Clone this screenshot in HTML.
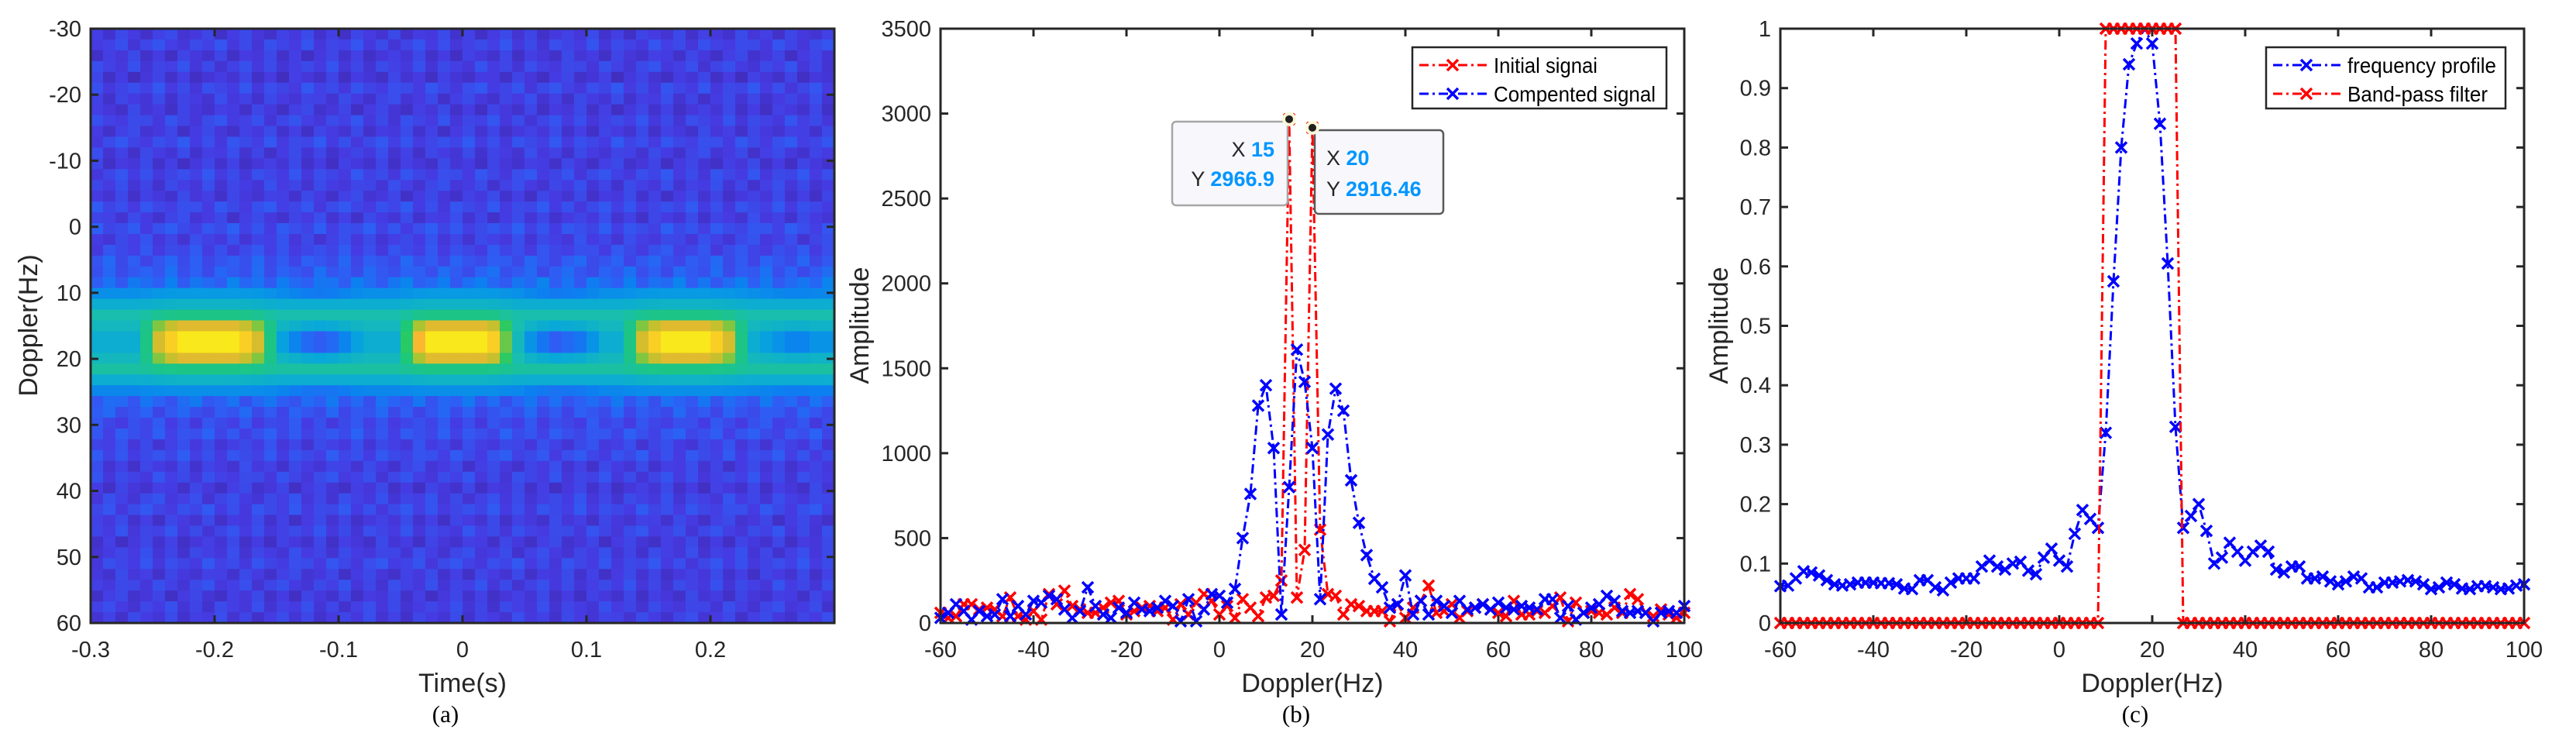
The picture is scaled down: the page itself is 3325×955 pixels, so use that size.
<!DOCTYPE html>
<html><head><meta charset="utf-8">
<style>
html,body{margin:0;padding:0;background:#fff;}
svg{display:block;font-family:"Liberation Sans",Arial,sans-serif;}
</style></head>
<body>
<svg id="fig" width="3325" height="955" viewBox="0 0 3325 955" xmlns="http://www.w3.org/2000/svg"></svg>
<script>
// ---------- DATA ----------
// Panel (a) heatmap
const timeTicks = [-0.3,-0.2,-0.1,0,0.1,0.2];
const dopplerTicksA = [-30,-20,-10,0,10,20,30,40,50,60];
// per-Doppler-row base level (55 rows, -30..60 Hz)
const rowLevel = [0.14,0.18,0.13,0.17,0.12,0.19,0.15,0.13,0.18,0.14,0.2,0.15,0.13,0.19,0.16,0.14,0.2,0.15,0.22,0.17,0.2,0.25,0.27,0.33,0.44,0.53,0.6,0.57,0.53,0.53,0.57,0.62,0.53,0.42,0.3,0.25,0.2,0.23,0.17,0.21,0.15,0.18,0.13,0.17,0.2,0.14,0.18,0.13,0.16,0.19,0.14,0.17,0.13,0.16,0.15];
const rowPeak = [0,0,0,0,0,0,0,0,0,0,0,0,0,0,0,0,0,0,0,0,0,0,0,0,0.47,0.55,0.66,0.85,0.97,0.97,0.85,0.66,0.55,0.44,0,0,0,0,0,0,0,0,0,0,0,0,0,0,0,0,0,0,0,0,0];
const rowDip = [0,0,0,0,0,0,0,0,0,0,0,0,0,0,0,0,0,0,0,0,0,0,0,0,0.1,0,0,0.1,0.4,0.4,0.1,0,0,0.1,0,0,0,0,0,0,0,0,0,0,0,0,0,0,0,0,0,0,0,0,0];
// per-time-column blob activity (60 cols, -0.3..0.3 s)
const blobCol = [0,0,0,0,0.3,0.7,0.9,1,1,1,1,1,0.9,0.7,0.3,-0.1,-0.3,-0.5,-0.6,-0.5,-0.3,-0.1,0,0,0,0.4,0.8,1,1,1,1,1,0.9,0.5,0.1,-0.2,-0.4,-0.6,-0.5,-0.4,-0.2,0,0,0.3,0.7,0.9,1,1,1,1,0.9,0.7,0.3,0,-0.1,-0.2,-0.3,-0.3,-0.2,-0.2];
const bgCol = [0.03,-0.04,0.07,0.01,-0.05,0.04,0.08,-0.03,0.0,0.06,-0.06,0.02,0.07,-0.01,-0.05,0.04,0.0,0.08,-0.04,0.03,-0.06,0.06,0.01,-0.03,0.07,-0.05,0.02,0.0,0.08,-0.04,0.04,-0.06,0.01,0.07,-0.03,0.05,-0.05,0.0,0.04,-0.01,0.08,-0.04,0.03,-0.06,0.05,0.01,-0.03,0.07,-0.05,0.04,0.0,-0.04,0.08,-0.01,0.03,-0.05,0.06,0.0,-0.03,0.04];

// Panels (b),(c): Doppler sampling grid, 97 bins from -60 to 100 Hz
const dopplerBins = [];
for (let i = 0; i <= 96; i++) dopplerBins.push(-60 + i * 160 / 96);
const xTicksBC = [-60,-40,-20,0,20,40,60,80,100];
const yTicksB = [0,500,1000,1500,2000,2500,3000,3500];
const yTicksC = [0,0.1,0.2,0.3,0.4,0.5,0.6,0.7,0.8,0.9,1];

const initialSignal = [60,30,40,110,110,80,90,80,40,150,40,20,70,20,170,110,190,100,80,60,60,90,120,130,50,70,90,100,70,90,20,110,50,120,170,130,50,100,30,140,90,40,150,160,250,2966.9,150,430,2916.46,550,170,160,50,110,100,70,70,70,10,110,30,90,130,220,60,70,110,30,70,90,110,80,60,40,130,50,50,70,60,100,150,10,120,60,70,60,50,90,60,170,140,60,40,80,50,30,60];
const compensatedSignal = [30,60,110,70,20,70,40,50,140,40,100,50,130,120,160,140,80,30,70,210,100,50,30,90,60,120,80,70,90,130,100,10,140,10,80,170,160,120,200,500,760,1280,1400,1030,50,800,1610,1420,1030,140,1110,1380,1250,840,590,400,260,210,90,110,280,50,130,50,130,100,60,130,80,90,110,80,120,90,80,100,90,80,140,140,30,100,20,60,90,110,160,130,70,60,70,60,10,60,70,60,100];
const freqProfile = [0.062,0.063,0.075,0.087,0.085,0.08,0.072,0.065,0.063,0.065,0.068,0.068,0.068,0.067,0.067,0.065,0.058,0.057,0.072,0.072,0.06,0.055,0.068,0.075,0.075,0.075,0.095,0.105,0.095,0.09,0.1,0.103,0.088,0.082,0.11,0.125,0.105,0.095,0.15,0.19,0.175,0.16,0.32,0.575,0.8,0.94,0.975,1.0,0.975,0.84,0.605,0.33,0.16,0.18,0.2,0.155,0.1,0.11,0.135,0.12,0.105,0.12,0.13,0.12,0.09,0.085,0.095,0.095,0.075,0.075,0.078,0.07,0.065,0.07,0.078,0.075,0.06,0.06,0.068,0.068,0.07,0.072,0.07,0.065,0.057,0.06,0.068,0.065,0.058,0.057,0.062,0.062,0.06,0.057,0.058,0.063,0.065];
const bandPass = [0,0,0,0,0,0,0,0,0,0,0,0,0,0,0,0,0,0,0,0,0,0,0,0,0,0,0,0,0,0,0,0,0,0,0,0,0,0,0,0,0,0,1,1,1,1,1,1,1,1,1,1,0,0,0,0,0,0,0,0,0,0,0,0,0,0,0,0,0,0,0,0,0,0,0,0,0,0,0,0,0,0,0,0,0,0,0,0,0,0,0,0,0,0,0,0,0];
const tipIdx = [45,48];

// ---------- HELPERS ----------
const NS = "http://www.w3.org/2000/svg";
const fig = document.getElementById('fig');
function mk(tag, attrs, parent){ const e=document.createElementNS(NS,tag); for(const k in attrs) e.setAttribute(k,attrs[k]); (parent||fig).appendChild(e); return e; }
function txt(s, attrs, parent){ const e=mk('text',attrs,parent); e.textContent=s; return e; }
function scale(d0,d1,r0,r1){ return v => r0 + (v-d0)/(d1-d0)*(r1-r0); }

const stops=[[0,[62,38,168]],[0.15,[70,58,225]],[0.3,[45,95,245]],[0.4,[12,128,240]],[0.5,[6,165,222]],[0.6,[25,190,175]],[0.7,[30,202,105]],[0.8,[180,196,45]],[0.88,[250,182,48]],[1,[249,248,20]]];
function parula(v){ v=Math.max(0,Math.min(1,v)); for(let i=1;i<stops.length;i++){ if(v<=stops[i][0]){ const a=stops[i-1],b=stops[i]; const t=(v-a[0])/(b[0]-a[0]); return 'rgb('+a[1].map((c,j)=>Math.round(c+(b[1][j]-c)*t)).join(',')+')'; } } return 'rgb(249,248,20)'; }

function axesFrame(g, L,R,T,B, xs, ys, xticks, yticks, xfmt, yfmt){
  mk('rect',{x:L,y:T,width:R-L,height:B-T,fill:'none',stroke:'#262626','stroke-width':3},g);
  xticks.forEach(v=>{ const x=xs(v);
    mk('line',{x1:x,y1:B,x2:x,y2:B-10,stroke:'#262626','stroke-width':3},g);
    mk('line',{x1:x,y1:T,x2:x,y2:T+10,stroke:'#262626','stroke-width':3},g);
    const t=txt(xfmt(v),{x:x,y:848,'font-size':29,'text-anchor':'middle',fill:'#262626'},g);
      });
  yticks.forEach(v=>{ const y=ys(v);
    mk('line',{x1:L,y1:y,x2:L+10,y2:y,stroke:'#262626','stroke-width':3},g);
    mk('line',{x1:R,y1:y,x2:R-10,y2:y,stroke:'#262626','stroke-width':3},g);
    const t=txt(yfmt(v),{x:L-12,y:y+10,'font-size':29,'text-anchor':'end',fill:'#262626'},g);
      });
}
function titles(g, cx, xt, yx, yt, cap, capx){
  const a=txt(xt,{x:cx,y:893,'font-size':34,'text-anchor':'middle',fill:'#262626'},g);
   
  const b=txt(yt,{x:yx,y:420,'font-size':34,'text-anchor':'middle',fill:'#262626',transform:'rotate(-90 '+yx+' 420)',dy:12},g);
   
  const c=txt(cap,{x:capx,y:932,'font-size':31,'text-anchor':'middle',fill:'#000','font-family':'"Liberation Serif",serif'},g);
   
}
function series(g, xs, ys, X, Y, color, name){
  const pts=X.map((x,i)=>xs(x).toFixed(1)+','+ys(Y[i]).toFixed(1)).join(' ');
  const pl=mk('polyline',{points:pts,fill:'none',stroke:color,'stroke-width':3,'stroke-dasharray':'12,5,3,5'},g);
   
  X.forEach((x,i)=>{ const px=xs(x), py=ys(Y[i]);
    const m=mk('path',{d:`M${px-7},${py-7}L${px+7},${py+7}M${px-7},${py+7}L${px+7},${py-7}`,stroke:color,'stroke-width':3.5,fill:'none'},g);
      });
}
function legend(g, x0,y0,w,h, entries){
  const lg=mk('g',{},g);  
  mk('rect',{x:x0,y:y0,width:w,height:h,fill:'#fff',stroke:'#262626','stroke-width':2.5},lg);
  entries.forEach((e,i)=>{ const y=y0+23+i*37; const en=mk('g',{},lg);
     
    mk('line',{x1:x0+9,y1:y,x2:x0+96,y2:y,stroke:e[1],'stroke-width':3,'stroke-dasharray':'12,5,3,5'},en);
    const mx=x0+52; mk('path',{d:`M${mx-7},${y-7}L${mx+7},${y+7}M${mx-7},${y+7}L${mx+7},${y-7}`,stroke:e[1],'stroke-width':3.5},en);
    txt(e[0],{x:x0+105,y:y+10,'font-size':28,fill:'#000',textLength:e[2],lengthAdjust:'spacingAndGlyphs'},en); });
}

// ---------- PANEL A ----------
(function(){
  const g=mk('g',{});  
  const L=117,R=1077,T=37,B=804;
  const xs=scale(-0.3,0.3,L,R), ys=scale(-30,60,T,B);
  const nr=rowLevel.length, nc=blobCol.length;
  const hm=mk('g',{},g);  
  for(let r=0;r<nr;r++){ for(let c=0;c<nc;c++){
    let v=rowLevel[r]; const b=blobCol[c];
    if(rowPeak[r]>0){ if(b>0) v=v+(rowPeak[r]-v)*b; else v=v+b*rowDip[r]; }
    else v=v+bgCol[(c+r*7)%nc];
    const x0=xs(-0.3+c*0.6/nc), x1=xs(-0.3+(c+1)*0.6/nc), y0=ys(-30+r*90/nr), y1=ys(-30+(r+1)*90/nr);
    const cell=mk('rect',{x:x0.toFixed(1),y:y0.toFixed(1),width:(x1-x0+0.8).toFixed(1),height:(y1-y0+0.8).toFixed(1),fill:parula(v)},hm);
     
  }}
  axesFrame(g,L,R,T,B,xs,ys,timeTicks,dopplerTicksA,v=>String(v),v=>String(v));
  titles(g,597,'Time(s)',36,'Doppler(Hz)','(a)',575);
})();

// ---------- PANEL B ----------
(function(){
  const g=mk('g',{});  
  const L=1214,R=2174,T=37,B=804;
  const xs=scale(-60,100,L,R), ys=scale(0,3500,B,T);
  series(g,xs,ys,dopplerBins,initialSignal,'#ff0000','initial-signal');
  series(g,xs,ys,dopplerBins,compensatedSignal,'#0000ff','compensated-signal');
  axesFrame(g,L,R,T,B,xs,ys,xTicksBC,yTicksB,v=>String(v),v=>String(v));
  titles(g,1694,'Doppler(Hz)',1109,'Amplitude','(b)',1673);
  legend(g,1823,61,328,79,[['Initial signai','#ff0000',134],['Compented signal','#0000ff',209]]);
  // data tips
  const boxes=[[1513,157,149,108,'#a6a6a6',1645,202,240,'end'],[1697,168,166,108,'#595959',1712,213,253,'start']];
  tipIdx.forEach((idx,k)=>{ const bx=boxes[k]; const tg=mk('g',{},g);
     
    mk('rect',{x:bx[0],y:bx[1],width:bx[2],height:bx[3],rx:5,fill:'#f8f8fc',stroke:bx[4],'stroke-width':2.5},tg);
    const px=xs(dopplerBins[idx]), py=ys(initialSignal[idx]);
    mk('circle',{cx:px,cy:py,r:9,fill:'#fbf8d8'},tg); mk('circle',{cx:px,cy:py,r:5,fill:'#202020'},tg);
    const xv=Math.round(dopplerBins[idx]), yv=initialSignal[idx];
    const t1=txt('',{x:bx[5],y:bx[6],'font-size':27,'text-anchor':bx[8]},tg);
    const a1=mk('tspan',{fill:'#262626'},t1); a1.textContent='X ';
    const b1=mk('tspan',{fill:'#0096ff','font-weight':'bold'},t1); b1.textContent=String(xv);
    const t2=txt('',{x:bx[5],y:bx[7],'font-size':27,'text-anchor':bx[8]},tg);
    const a2=mk('tspan',{fill:'#262626'},t2); a2.textContent='Y ';
    const b2=mk('tspan',{fill:'#0096ff','font-weight':'bold'},t2); b2.textContent=String(yv);
  });
})();

// ---------- PANEL C ----------
(function(){
  const g=mk('g',{});  
  const L=2298,R=3258,T=37,B=804;
  const xs=scale(-60,100,L,R), ys=scale(0,1,B,T);
  series(g,xs,ys,dopplerBins,freqProfile,'#0000ff','frequency-profile');
  series(g,xs,ys,dopplerBins,bandPass,'#ff0000','band-pass-filter');
  axesFrame(g,L,R,T,B,xs,ys,xTicksBC,yTicksC,v=>String(v),v=>String(v));
  titles(g,2778,'Doppler(Hz)',2218,'Amplitude','(c)',2756);
  legend(g,2925,61,309,79,[['frequency profile','#0000ff',192],['Band-pass filter','#ff0000',181]]);
})();
</script>
</body></html>
